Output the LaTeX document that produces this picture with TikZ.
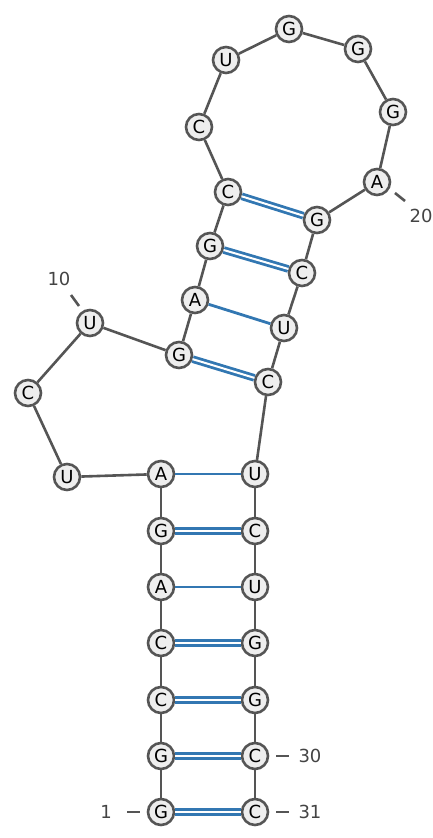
\documentclass[tikz,border=0pt]{standalone}
\usepackage{fontspec}
\setmainfont{DejaVu Sans}
\definecolor{ntline}{HTML}{555555}
\definecolor{ntfill}{HTML}{EEEEEE}
\definecolor{pairblue}{HTML}{3277B2}
\definecolor{numgray}{HTML}{444444}
\tikzset{
  nt/.style={circle, draw=ntline, fill=ntfill, line width=2.6pt,
             minimum size=26pt, inner sep=0pt, font=\fontsize{18}{18}\selectfont},
  backbone/.style={draw=ntline, line width=2.6pt},
  pairone/.style={draw=pairblue, line width=2.8pt},
  pairtwo/.style={draw=pairblue, line width=2.8pt, double=white, double distance=2pt},
  tick/.style={draw=ntline, line width=2.6pt},
  numlabel/.style={text=numgray, font=\fontsize{18}{18}\selectfont}
}
\begin{document}
\begin{tikzpicture}[x=1pt, y=-1pt]
 \useasboundingbox (0,0) rectangle (433,838);
 % bases
 \foreach \i/\b/\x/\y in {1/G/161/812, 2/G/161/756, 3/C/161/700, 4/C/161/643,
     5/A/161/587, 6/G/161/531, 7/A/161/474, 8/U/67/477, 9/C/28/393,
     10/U/90/323, 11/G/179/355, 12/A/195/300, 13/G/210/246, 14/C/228/192,
     15/C/199/127, 16/U/226/60, 17/G/289/29, 18/G/358/49, 19/G/393/112,
     20/A/377/182, 21/G/317/220, 22/C/302/273, 23/U/284/328, 24/C/268/382,
     25/U/255/474, 26/C/255/531, 27/U/255/587, 28/G/255/643, 29/G/255/700,
     30/C/255/756, 31/C/255/812}
   \node[nt] (n\i) at (\x,\y) {\b};
 % backbone
 \foreach \i [evaluate=\i as \j using int(\i+1)] in {1,...,30}
   \draw[backbone] (n\i) -- (n\j);
 % pairs
 \foreach \a/\b in {1/31, 2/30, 3/29, 4/28, 6/26, 11/24, 13/22, 14/21}
   \draw[pairtwo] (n\a) -- (n\b);
 \foreach \a/\b in {5/27, 7/25, 12/23}
   \draw[pairone] (n\a) -- (n\b);
 % numbering
 \draw[tick] (127,812) -- (140,812);
 \node[numlabel] (l1) at (106,812) {1};
 \draw[tick] (71,295) -- (79,306);
 \node[numlabel] (l10) at (59,279) {10};
 \draw[tick] (395,193) -- (405,201);
 \node[numlabel] (l20) at (421,216) {20};
 \draw[tick] (276,756) -- (289,756);
 \node[numlabel] (l30) at (310,756) {30};
 \draw[tick] (276,812) -- (289,812);
 \node[numlabel] (l31) at (310,812) {31};
\end{tikzpicture}
\end{document}
